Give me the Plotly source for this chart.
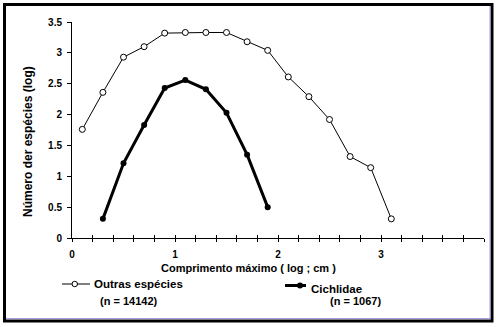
import plotly.graph_objects as go

# Log body-length classes (x) and log species counts (y)
outras_x = [0.1, 0.3, 0.5, 0.7, 0.9, 1.1, 1.3, 1.5, 1.7, 1.9, 2.1, 2.3, 2.5, 2.7, 2.9, 3.1]
outras_y = [1.76, 2.36, 2.93, 3.10, 3.32, 3.33, 3.33, 3.33, 3.18, 3.04, 2.61, 2.29, 1.92, 1.32, 1.14, 0.31]

cichlidae_x = [0.3, 0.5, 0.7, 0.9, 1.1, 1.3, 1.5, 1.7, 1.9]
cichlidae_y = [0.31, 1.21, 1.83, 2.43, 2.56, 2.41, 2.03, 1.35, 0.50]

x_ticks = [round(0.2 * i, 1) for i in range(21)]
x_labels = {0: "0", 1: "1", 2: "2", 3: "3"}
y_ticks = [0, 0.5, 1, 1.5, 2, 2.5, 3, 3.5]
y_labels = ["0", "0.5", "1", "1.5", "2", "2.5", "3", "3.5"]

W, H = 496, 327
L, R, T, B = 72, 12, 22, 89
PW, PH = W - L - R, H - T - B

FONT = "Liberation Sans, Arial, sans-serif"


def px(x):
    return (x - L) / PW


def py(y):
    return (H - B - y) / PH


fig = go.Figure()

fig.add_trace(go.Scatter(
    x=outras_x, y=outras_y, mode="lines+markers",
    line=dict(color="black", width=1),
    marker=dict(symbol="circle", size=6, color="white", line=dict(color="black", width=1)),
    showlegend=False, cliponaxis=False,
))
fig.add_trace(go.Scatter(
    x=cichlidae_x, y=cichlidae_y, mode="lines+markers",
    line=dict(color="black", width=3),
    marker=dict(symbol="circle", size=6, color="black"),
    showlegend=False, cliponaxis=False,
))
# second x axis only carries the upper half of the crossing tick marks
fig.add_trace(go.Scatter(x=[0], y=[0], xaxis="x2", mode="markers",
                         marker=dict(opacity=0), showlegend=False, hoverinfo="skip"))

fig.update_layout(
    width=W, height=H,
    margin=dict(l=L, r=R, t=T, b=B),
    paper_bgcolor="white", plot_bgcolor="white",
    font=dict(family=FONT, color="black"),
    xaxis=dict(
        range=[0, 4], showgrid=False, zeroline=False,
        showline=True, linecolor="black", linewidth=1,
        tickmode="array", tickvals=x_ticks,
        ticktext=[x_labels.get(v, "") if float(v).is_integer() else "" for v in x_ticks],
        ticks="outside", ticklen=3, tickwidth=1, tickcolor="black",
        tickfont=dict(size=10, family=FONT, weight="bold"),
        ticklabelstandoff=4,
    ),
    xaxis2=dict(
        range=[0, 4], overlaying="x", anchor="y", side="bottom",
        showgrid=False, zeroline=False, showline=False,
        tickmode="array", tickvals=x_ticks, showticklabels=False,
        ticks="inside", ticklen=3, tickwidth=1, tickcolor="black",
    ),
    yaxis=dict(
        range=[0, 3.5], showgrid=False, zeroline=False,
        showline=True, linecolor="black", linewidth=1,
        tickmode="array", tickvals=y_ticks, ticktext=y_labels,
        ticks="outside", ticklen=4, tickwidth=1, tickcolor="black",
        tickfont=dict(size=10, family=FONT, weight="bold"),
        ticklabelstandoff=3,
    ),
)

bold = lambda s: dict(size=s, family=FONT, weight="bold", color="black")

annotations = [
    dict(text="Comprimento máximo ( log ; cm )", x=px(248), y=py(268),
         font=bold(11), xanchor="center", yanchor="middle"),
    dict(text="Número der espécies (log)", x=px(28), y=py(142), textangle=-90,
         font=bold(12), xanchor="center", yanchor="middle"),
    dict(text="Outras espécies", x=px(92), y=py(284), font=bold(11.5),
         xanchor="left", yanchor="middle"),
    dict(text="(n = 14142)", x=px(129), y=py(301), font=bold(11),
         xanchor="center", yanchor="middle"),
    dict(text="Cichlidae", x=px(309), y=py(289), font=bold(11.5),
         xanchor="left", yanchor="middle"),
    dict(text="(n = 1067)", x=px(355), y=py(301), font=bold(11),
         xanchor="center", yanchor="middle"),
]
for a in annotations:
    a.update(xref="paper", yref="paper", showarrow=False)
fig.update_layout(annotations=annotations)

shapes = [
    # outer frame
    dict(type="rect", x0=px(4.5), x1=px(492), y0=py(321), y1=py(4.5),
         line=dict(color="black", width=3)),
    # thin blue inner edge on right and bottom
    dict(type="line", x0=px(490), x1=px(490), y0=py(318.5), y1=py(6),
         line=dict(color="#a59de6", width=1)),
    dict(type="line", x0=px(6), x1=px(490), y0=py(318.5), y1=py(318.5),
         line=dict(color="#a59de6", width=1)),
    # legend samples
    dict(type="line", x0=px(62), x1=px(90), y0=py(284), y1=py(284),
         line=dict(color="black", width=1)),
    dict(type="circle", x0=px(72), x1=px(77.5), y0=py(286.7), y1=py(281.3),
         fillcolor="white", line=dict(color="black", width=1)),
    dict(type="line", x0=px(285), x1=px(306), y0=py(285.5), y1=py(285.5),
         line=dict(color="black", width=3)),
    dict(type="circle", x0=px(297), x1=px(303), y0=py(288.5), y1=py(282.5),
         fillcolor="black", line=dict(color="black", width=0)),
]
for s in shapes:
    s.update(xref="paper", yref="paper")
fig.update_layout(shapes=shapes)

fig.write_html("out.html")
